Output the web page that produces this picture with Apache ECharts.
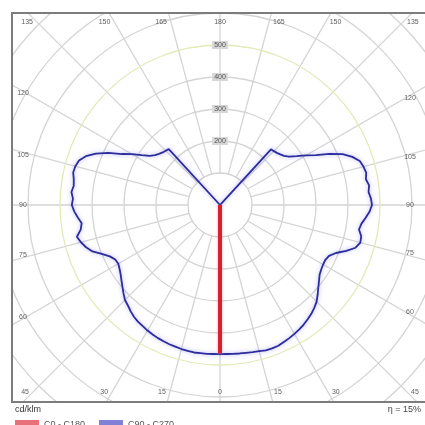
<!DOCTYPE html>
<html><head><meta charset="utf-8">
<script src="https://cdn.jsdelivr.net/npm/echarts@6/dist/echarts.min.js"></script>
<style>html,body{margin:0;padding:0;background:#fff}#c{width:425px;height:425px}</style>
</head><body><div id="c"></div>
<script>
// ---- data ----
const gammas = [];
for (let g = 0; g <= 180; g += 2.5) gammas.push(g);
// C90 (right half), cd/klm, one value per gamma
const c90 = [466,466,467,468,469,471,473,476,477,476,472,469,465,461,456,450,444,436,427,414,401,390,380,375,372,371,376,392,420,444,454,452,441,446,457,468,475,472,466,470,463,468,464,458,440,415,378,338,310,284,264,252,246,241,238,236,4,0,0,0,0,0,0,0,0,0,0,0,0,0,0,0,0];
// C270 (left half)
const c270 = [466,466,467,467,468,467,466,464,463,461,459,456,453,449,446,441,434,426,420,409,398,388,379,372,367,369,380,400,424,439,450,458,442,436,446,456,463,460,466,461,464,470,468,462,446,420,385,345,318,290,268,256,249,243,240,237,4,0,0,0,0,0,0,0,0,0,0,0,0,0,0,0,0];
// C0 (right) and C180 (left)
const c0 = gammas.map((g, i) => i === 0 ? 463 : 0);
const c180 = gammas.map((g, i) => i === 0 ? 463 : 0);
const radialLabels = [200, 300, 400, 500];
const angleLabels = [0, 15, 30, 45, 60, 75, 90, 105, 120, 135, 150, 165, 180];
const seriesNames = ['C0 - C180', 'C90 - C270'];
const unitText = 'cd/klm';
const etaText = 'η = 15%';

// ---- layout ----
const CX = 220, CY = 205, PX_PER = 0.32, RMAX = 900;
const FL = 12, FT = 13, FR = 432, FB = 402;
const FONT = '"Liberation Sans", Arial, sans-serif';

function loop(left, right) {
  const pts = [];
  for (let i = gammas.length - 1; i >= 0; i--) pts.push([left[i], 360 - gammas[i]]);
  for (let i = 0; i < gammas.length; i++) pts.push([right[i], gammas[i]]);
  return pts;
}

function angleLabelEls() {
  const inL = 21, inR = 410, inT = 22, inB = 392;
  const els = [];
  angleLabels.forEach(g => {
    const sides = (g === 0 || g === 180) ? [0] : [-1, 1];
    sides.forEach(s => {
      const dx = s * Math.sin(g * Math.PI / 180), dy = Math.cos(g * Math.PI / 180);
      let t = Infinity, edge = '';
      if (dx > 1e-6) { const tt = (inR - CX) / dx; if (tt < t) { t = tt; edge = 'R'; } }
      if (dx < -1e-6) { const tt = (inL - CX) / dx; if (tt < t) { t = tt; edge = 'L'; } }
      if (dy > 1e-6) { const tt = (inB - CY) / dy; if (tt < t) { t = tt; edge = 'B'; } }
      if (dy < -1e-6) { const tt = (inT - CY) / dy; if (tt < t) { t = tt; edge = 'T'; } }
      let x = CX + dx * t, y = CY + dy * t, align = 'center';
      if (edge === 'T' || edge === 'B') {
        if (s < 0) { align = 'right'; x -= 4; }
        else if (s > 0) { align = 'left'; x += 4; }
      } else {
        x = edge === 'L' ? 23 : 410;
        if (Math.abs(y - CY) > 1) y += (y < CY ? 3 : -3);
      }
      els.push({
        type: 'text', z: 12, silent: true,
        style: { text: String(g), x: x, y: y, align: align, verticalAlign: 'middle',
                 fill: '#5e5e5e', font: '7px ' + FONT }
      });
    });
  });
  return els;
}

const ringColors = ['#d2d2d2','#d4d4d4','#d4d4d4','#d4d4d4','#e4e9b8','#d4d4d4','#d4d4d4','#d4d4d4','#d4d4d4'];

const chart = echarts.init(document.getElementById('c'), null, { renderer: 'canvas' });
chart.setOption({
  animation: false,
  backgroundColor: '#fff',
  polar: [
    { center: [CX, CY], radius: [100 * PX_PER, RMAX * PX_PER] },
    { center: [CX, CY], radius: RMAX * PX_PER }
  ],
  angleAxis: [
    { polarIndex: 0, type: 'value', min: 0, max: 360, interval: 15, startAngle: 90,
      axisLine: { show: false }, axisTick: { show: false }, axisLabel: { show: false },
      splitLine: { show: true, lineStyle: { color: '#d4d4d4', width: 1.3 } } },
    { polarIndex: 1, type: 'value', min: 0, max: 360, startAngle: 270, clockwise: false, show: false }
  ],
  radiusAxis: [
    { polarIndex: 0, type: 'value', min: 100, max: RMAX, interval: 100,
      axisLine: { show: false }, axisTick: { show: false },
      splitLine: { show: true, lineStyle: { color: ringColors, width: 1.3 } },
      axisLabel: {
        show: true, margin: 0, align: 'center', verticalAlign: 'middle', hideOverlap: false,
        formatter: v => radialLabels.indexOf(v) >= 0 ? '{b|' + v + '}' : '',
        rich: { b: { backgroundColor: '#d6d6d6', color: '#555', fontSize: 7, fontFamily: FONT,
                     padding: [1, 2, 0, 2] } }
      },
      z: 3 },
    { polarIndex: 1, type: 'value', min: 0, max: RMAX, show: false }
  ],
  legend: {
    z: 20, left: 10, top: 415, icon: 'rect', itemWidth: 24, itemHeight: 9, itemGap: 14,
    textStyle: { fontSize: 9, color: '#555', fontFamily: FONT },
    data: [
      { name: seriesNames[0], itemStyle: { color: '#e8707a' } },
      { name: seriesNames[1], itemStyle: { color: '#8080d6' } }
    ]
  },
  series: [
    { name: seriesNames[1], type: 'line', coordinateSystem: 'polar', polarIndex: 1,
      data: loop(c270, c90), showSymbol: false, symbol: 'none', z: 3,
      lineStyle: { color: '#2c2c9c', width: 1.8, shadowColor: 'rgba(110,110,240,0.55)', shadowBlur: 4 } },
    { name: seriesNames[0], type: 'line', coordinateSystem: 'polar', polarIndex: 1,
      data: loop(c180, c0), showSymbol: false, symbol: 'none', z: 4,
      lineStyle: { color: '#d8202e', width: 4, shadowColor: 'rgba(240,110,130,0.6)', shadowBlur: 3 } }
  ],
  graphic: [
    { type: 'rect', z: 10, silent: true, shape: { x: 0, y: 0, width: 425, height: FT }, style: { fill: '#fff' } },
    { type: 'rect', z: 10, silent: true, shape: { x: 0, y: 0, width: FL, height: 425 }, style: { fill: '#fff' } },
    { type: 'rect', z: 10, silent: true, shape: { x: 0, y: FB, width: 425, height: 425 - FB }, style: { fill: '#fff' } },
    { type: 'rect', z: 11, silent: true, shape: { x: FL, y: FT, width: FR - FL, height: FB - FT },
      style: { fill: 'none', stroke: '#7c7c7c', lineWidth: 2 } },
    { type: 'text', z: 12, silent: true,
      style: { text: unitText, x: 15, y: 410, verticalAlign: 'middle', fill: '#333', font: '9px ' + FONT } },
    { type: 'text', z: 12, silent: true,
      style: { text: etaText, x: 421, y: 410, align: 'right', verticalAlign: 'middle', fill: '#444', font: '9px ' + FONT } }
  ].concat(angleLabelEls())
});
</script>
</body></html>
